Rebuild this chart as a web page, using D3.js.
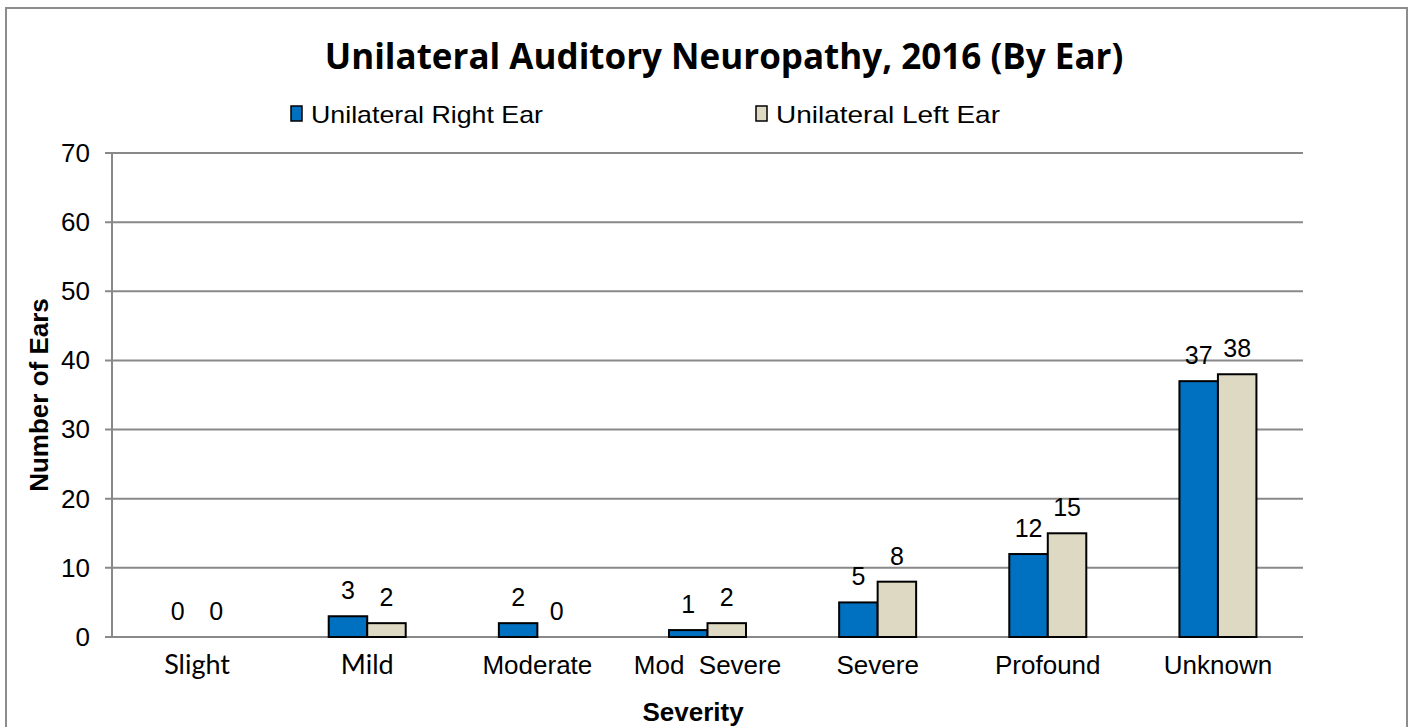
<!DOCTYPE html>
<html><head><meta charset="utf-8">
<script src="https://cdn.jsdelivr.net/npm/d3@7"></script>
<style>
html,body{margin:0;padding:0;background:#fff;}
svg{display:block;}
</style></head>
<body>
<svg id="chart" width="1410" height="727"></svg>
<script>
const title = "Unilateral Auditory Neuropathy, 2016 (By Ear)";
const categories = ["Slight", "Mild", "Moderate", "Mod  Severe", "Severe", "Profound", "Unknown"];
const seriesNames = ["Unilateral Right Ear", "Unilateral Left Ear"];
const rightEar = [0, 3, 2, 1, 5, 12, 37];
const leftEar = [0, 2, 0, 2, 8, 15, 38];
const yTicks = [0, 10, 20, 30, 40, 50, 60, 70];
const xTitle = "Severity";
const yTitle = "Number of Ears";

const colors = ["#0070C0", "#DDD9C3"];
const arial = "'Liberation Sans', Arial, sans-serif";
const svg = d3.select("#chart");

// outer border
svg.append("rect").attr("x", 6).attr("y", 8).attr("width", 1401).attr("height", 740)
  .attr("fill", "#fff").attr("stroke", "#8c8c8c").attr("stroke-width", 2);

const L = 112, R = 1303, T = 153, B = 637;
const x = d3.scaleBand().domain(categories).range([L, R]).paddingInner(0).paddingOuter(0);
const y = d3.scaleLinear().domain([0, 70]).range([B, T]);
const barW = 38.5;
const xs = d3.scaleBand().domain(seriesNames).range([0, barW * 2]);

// gridlines
const g = svg.append("g");
g.selectAll("line.grid").data(yTicks).join("line")
  .attr("x1", L - 7).attr("x2", R).attr("y1", d => y(d)).attr("y2", d => y(d))
  .attr("stroke", "#898989").attr("stroke-width", 2);
// y axis line
g.append("line").attr("x1", L).attr("x2", L).attr("y1", T).attr("y2", B)
  .attr("stroke", "#898989").attr("stroke-width", 2);

// y axis labels via d3 axis
const yAxis = d3.axisLeft(y).tickValues(yTicks).tickSize(0).tickPadding(22);
const ya = svg.append("g").attr("transform", `translate(${L},0)`).call(yAxis);
ya.select(".domain").remove();
ya.selectAll("text").attr("font-family", arial).attr("font-size", 26).attr("fill", "#000");

// x axis labels
const xAxis = d3.axisBottom(x).tickSize(0).tickPadding(0);
const xa = svg.append("g").attr("transform", `translate(0,${B})`).call(xAxis);
xa.select(".domain").remove();
xa.selectAll("text").attr("dy", null).attr("y", 37)
  .attr("font-family", (d, i) => i < 2 ? "Lato, 'Open Sans', sans-serif" : arial)
  .attr("font-size", (d, i) => i < 2 ? 27 : 26).attr("fill", "#000")
  .style("white-space", "pre").attr("xml:space", "preserve");

// bars
const data = categories.map((c, i) => ({c, vals: [rightEar[i], leftEar[i]]}));
const groups = svg.append("g").selectAll("g").data(data).join("g")
  .attr("transform", d => `translate(${x(d.c) + x.bandwidth() / 2 - barW},0)`);
groups.selectAll("rect").data(d => d.vals.map((v, j) => ({v, j}))).join("rect")
  .filter(d => d.v > 0)
  .attr("x", d => xs(seriesNames[d.j])).attr("width", xs.bandwidth())
  .attr("y", d => y(d.v)).attr("height", d => y(0) - y(d.v))
  .attr("fill", d => colors[d.j]).attr("stroke", "#000").attr("stroke-width", 2);
groups.selectAll("text").data(d => d.vals.map((v, j) => ({v, j}))).join("text")
  .attr("x", d => xs(seriesNames[d.j]) + xs.bandwidth() / 2)
  .attr("y", d => y(d.v) - 17)
  .attr("text-anchor", "middle").attr("font-family", arial).attr("font-size", 25).attr("fill", "#000")
  .text(d => d.v);

// title
svg.append("text").attr("x", 724).attr("y", 69).attr("text-anchor", "middle")
  .attr("font-family", "'Open Sans', 'Noto Sans', sans-serif").attr("font-weight", 700)
  .attr("font-size", 35).attr("fill", "#000").text(title);

// legend
const legX = [291, 756];
seriesNames.forEach((s, i) => {
  svg.append("rect").attr("x", legX[i]).attr("y", 106).attr("width", 11).attr("height", 15)
    .attr("fill", colors[i]).attr("stroke", "#000").attr("stroke-width", 1.5);
  svg.append("text").attr("x", legX[i] + 20).attr("y", 123).attr("font-family", arial)
    .attr("font-size", 24).attr("fill", "#000").attr("textLength", i === 0 ? 232 : 224)
    .attr("lengthAdjust", "spacingAndGlyphs").text(s);
});

// axis titles
svg.append("text").attr("x", 693).attr("y", 721).attr("text-anchor", "middle")
  .attr("font-family", arial).attr("font-weight", 700).attr("font-size", 26).attr("fill", "#000").text(xTitle);
svg.append("text").attr("transform", "translate(48,395) rotate(-90)").attr("text-anchor", "middle")
  .attr("font-family", arial).attr("font-weight", 700).attr("font-size", 26).attr("fill", "#000").text(yTitle);
</script>
</body></html>
